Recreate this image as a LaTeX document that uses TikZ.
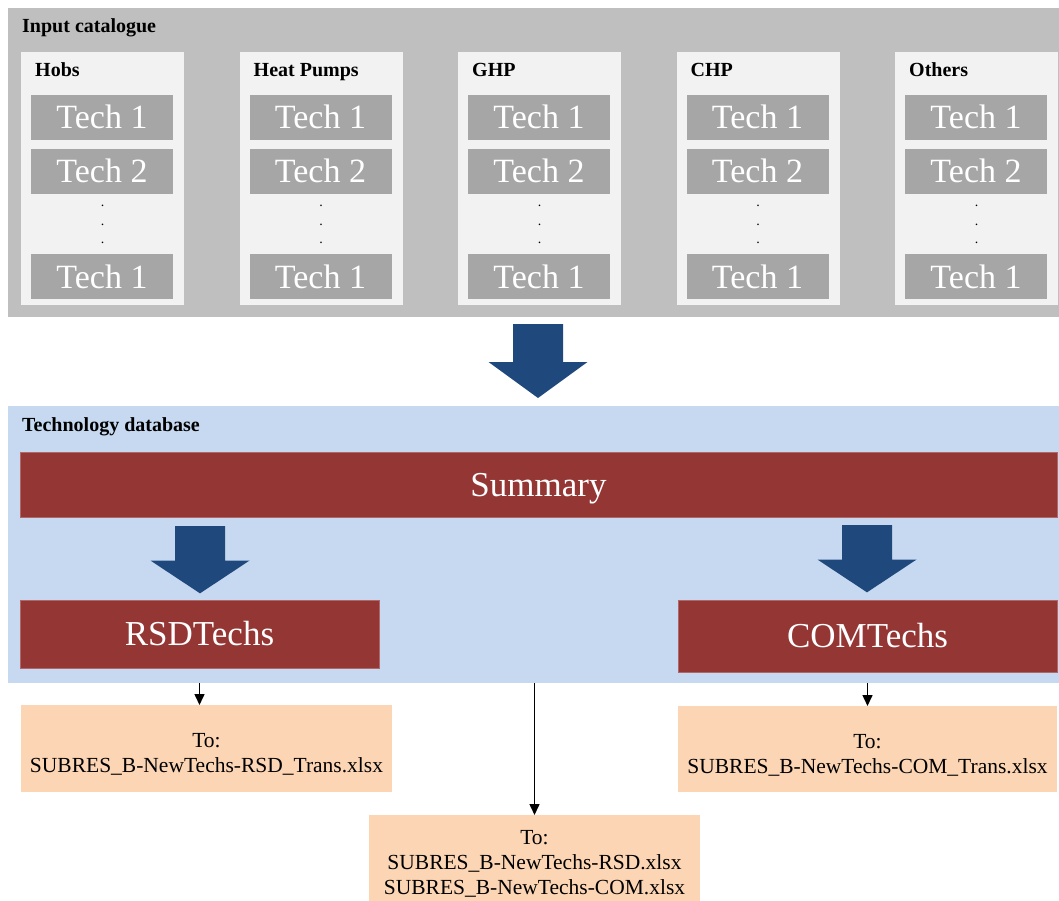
\documentclass[tikz,border=0pt]{standalone}
\usepackage{fontspec}
\setmainfont{Liberation Serif}
\usetikzlibrary{positioning, arrows.meta}

\definecolor{catgrey}{HTML}{BFBFBF}
\definecolor{colgrey}{HTML}{F2F2F2}
\definecolor{techgrey}{HTML}{A6A6A6}
\definecolor{dbblue}{HTML}{C6D9F1}
\definecolor{boxred}{HTML}{943634}
\definecolor{arrowblue}{HTML}{1F497D}
\definecolor{outorange}{HTML}{FCD5B4}
\newcommand{\toplift}{\rule{0pt}{26pt}}

\begin{document}
\begin{tikzpicture}[x=1pt, y=-1pt, >={Triangle[length=11pt, width=10pt]},
   area/.style={anchor=north west, inner sep=0pt, outer sep=0pt},
   heading/.style={anchor=base west, inner sep=0pt, font=\bfseries\fontsize{20pt}{24pt}\selectfont},
   colpanel/.style={area, fill=colgrey, minimum width=163pt, minimum height=253pt},
   tech/.style={area, fill=techgrey, text=white, minimum width=142pt, minimum height=45pt,
     text height=23pt, text depth=0pt, font=\fontsize{34pt}{40pt}\selectfont},
   redbox/.style={area, fill=boxred, draw=boxred!75!white, line width=0.6pt, text=white,
     text height=23pt, text depth=0pt, font=\fontsize{35pt}{42pt}\selectfont},
   outbox/.style={area, fill=outorange, align=center,
     font=\fontsize{21.5pt}{25pt}\selectfont},
   blockarrow/.pic={\fill[arrowblue] (-25,0) -- (25,0) -- (25,38) -- (49.5,38)
       -- (0,74) -- (-49.5,38) -- (-25,38) -- cycle;}]
  \useasboundingbox (0,0) rectangle (1059,901);

  % input catalogue
  \node[area, fill=catgrey, minimum width=1051pt, minimum height=309pt] (cat) at (8,8) {};
  \node[heading] (cattitle) at (22,32.5) {Input catalogue};
  \foreach \name/\x [count=\i] in {Hobs/21, Heat Pumps/239.5, GHP/458, CHP/676.5, Others/895} {
    \node[colpanel] (col\i) at (\x,52) {};
    \node[heading] (head\i) at (\x+14,76.5) {\name};
    \node[tech] (techA\i) at (\x+10,95) {Tech 1};
    \node[tech] (techB\i) at (\x+10,149) {Tech 2};
    \foreach \y in {206,225,243}
      \node[inner sep=0pt, font=\fontsize{14pt}{14pt}\selectfont] at (\x+81.5,\y) {.};
    \node[tech] (techN\i) at (\x+10,254) {Tech 1};
  }

  \pic at (538,324) {blockarrow};

  % technology database
  \node[area, fill=dbblue, minimum width=1051pt, minimum height=277pt] (db) at (8,406) {};
  \node[heading] (dbtitle) at (22,431.5) {Technology database};
  \node[redbox, minimum width=1037pt, minimum height=65pt] (summary) at (20,452) {Summary};
  \node[redbox, minimum width=359pt, minimum height=68pt] (rsd) at (20,600) {RSDTechs};
  \node[redbox, minimum width=379pt, minimum height=72pt] (com) at (678,600) {COMTechs};
  \pic[yscale=0.91] at (200,526) {blockarrow};
  \pic[yscale=0.91] at (867,525) {blockarrow};

  % outputs
  \node[outbox, minimum width=371pt, minimum height=87pt] (rsdout) at (21,705)
    {\toplift To:\\SUBRES\_B-NewTechs-RSD\_Trans.xlsx};
  \node[outbox, minimum width=379pt, minimum height=86pt] (comout) at (678,706)
    {\toplift To:\\SUBRES\_B-NewTechs-COM\_Trans.xlsx};
  \node[outbox, minimum width=331pt, minimum height=86pt] (midout) at (369,815)
    {\toplift To:\\SUBRES\_B-NewTechs-RSD.xlsx\\SUBRES\_B-NewTechs-COM.xlsx};

  \draw[->, line width=1.5pt] (rsd.south |- db.south) -- (rsdout.north -| rsd.south);
  \draw[->, line width=1.5pt] (com.south |- db.south) -- (comout.north -| com.south);
  \draw[->, line width=1.5pt] (db.south -| midout.north) -- (midout.north);
\end{tikzpicture}
\end{document}
